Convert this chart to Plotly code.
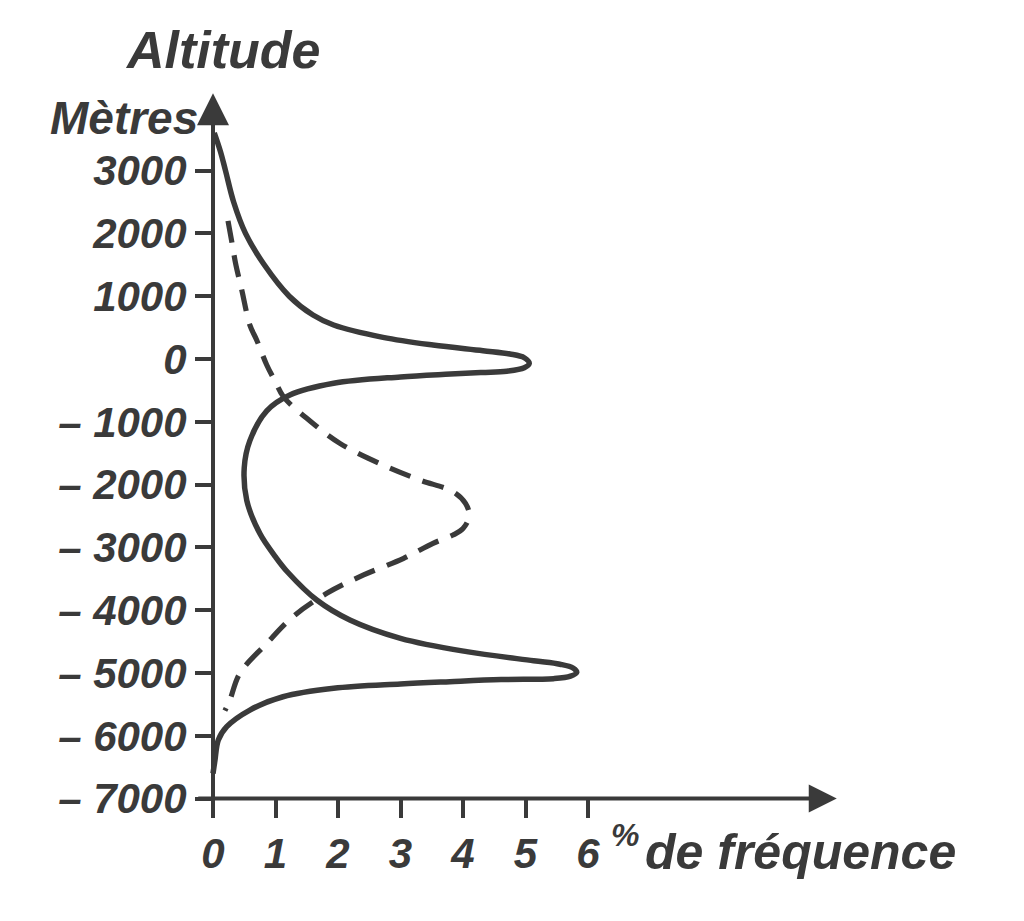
import plotly.graph_objects as go

# ---------------- data ----------------
# actual frequency curve (solid): altitude (m) -> % de fréquence
solid_alt = [3600, 3300, 3000, 2500, 2000, 1500, 1000, 700, 541, 345, 223, 133, 80,
             20, -70, -140, -195, -215, -240, -285, -387, -573, -825, -1300, -1730,
             -2250, -2780, -3150, -3400, -3838, -4156, -4448, -4660, -4805, -4860,
             -4920, -4990, -5050, -5090, -5105, -5138, -5175, -5244, -5378, -5590,
             -5855, -6067, -6400, -6600]
solid_freq = [0.02, 0.12, 0.2, 0.33, 0.52, 0.82, 1.22, 1.6, 1.93, 2.72, 3.52, 4.32, 4.75,
              4.98, 5.06, 4.98, 4.7, 4.3, 3.8, 3.0, 1.93, 1.23, 0.86, 0.59, 0.50,
              0.54, 0.75, 1.0, 1.2, 1.66, 2.19, 3.0, 4.06, 5.13, 5.55,
              5.76, 5.82, 5.72, 5.45, 4.61, 3.79, 3.0, 1.93, 1.12, 0.59,
              0.22, 0.085, 0.03, 0.0]

# theoretical (normal) curve (dashed)
dash_alt = [2200, 1815, 1530, 1100, 540, 300, -95, -366, -605, -944, -1343, -1688,
            -1927, -2113, -2300, -2500, -2700, -2803, -2935, -3174, -3439, -3731,
            -4103, -4528, -5005, -5430, -5600]
dash_freq = [0.24, 0.31, 0.36, 0.46, 0.59, 0.70, 0.86, 1.0, 1.13, 1.5, 2.03, 2.72,
             3.31, 3.84, 4.04, 4.1, 4.0, 3.84, 3.52, 3.05, 2.41, 1.82,
             1.28, 0.86, 0.43, 0.27, 0.19]

x_ticks = [0, 1, 2, 3, 4, 5, 6]
x_ticktext = ["0", "1", "2", "3", "4", "5", "6"]
y_ticks = [3000, 2000, 1000, 0, -1000, -2000, -3000, -4000, -5000, -6000, -7000]
y_ticktext = ["3000", "2000", "1000", "0", "– 1000", "– 2000", "– 3000",
              "– 4000", "– 5000", "– 6000", "– 7000"]

# ---------------- geometry ----------------
W, H = 1024, 921
X0_PX, X_UNIT = 213.0, 62.5          # pixel of x=0, pixels per 1 %
Y0_PX, Y_UNIT = 359.0, 0.0628        # pixel of 0 m, pixels per metre

x_range = [(0 - X0_PX) / X_UNIT, (W - X0_PX) / X_UNIT]
y_range = [(Y0_PX - H) / Y_UNIT, Y0_PX / Y_UNIT]

INK = "#3a3a3a"
FONT = "Liberation Sans"

fig = go.Figure()
fig.add_trace(go.Scatter(x=solid_freq, y=solid_alt, mode="lines",
                         line=dict(color=INK, width=5.5, shape="spline", smoothing=1.0),
                         hoverinfo="skip"))
fig.add_trace(go.Scatter(x=dash_freq, y=dash_alt, mode="lines",
                         line=dict(color=INK, width=5.2, shape="spline", smoothing=1.0,
                                   dash="22px,13px"),
                         hoverinfo="skip"))

tickfont = dict(family=FONT, size=42, color=INK, weight="bold", style="italic")

fig.update_layout(
    width=W, height=H, autosize=False,
    margin=dict(l=0, r=0, t=0, b=0),
    paper_bgcolor="white", plot_bgcolor="white",
    showlegend=False,
    xaxis=dict(domain=[0, 1], range=x_range, anchor="free",
               position=1 - (Y0_PX + 7000 * Y_UNIT) / H,
               showgrid=False, zeroline=False, showline=False,
               ticks="outside", ticklen=18, tickwidth=4, tickcolor=INK,
               tickvals=x_ticks, ticktext=x_ticktext, tickfont=tickfont),
    yaxis=dict(domain=[0, 1], range=y_range, anchor="free",
               position=X0_PX / W,
               showgrid=False, zeroline=False, showline=False,
               ticks="outside", ticklen=18, tickwidth=4, tickcolor=INK,
               tickvals=y_ticks, ticktext=y_ticktext, tickfont=tickfont),
)

# axis lines with arrows
fig.add_annotation(x=9.98, y=-7000, ax=-0.26, ay=-7000, xref="x", yref="y",
                   axref="x", ayref="y", text="", showarrow=True,
                   arrowhead=2, arrowsize=1.4, arrowwidth=4, arrowcolor=INK)
fig.add_annotation(x=0, y=4230, ax=0, ay=-7330, xref="x", yref="y",
                   axref="x", ayref="y", text="", showarrow=True,
                   arrowhead=2, arrowsize=1.6, arrowwidth=4, arrowcolor=INK)

def label(text, cx, cy, size, family=FONT):
    fig.add_annotation(x=cx / W, y=1 - cy / H, xref="paper", yref="paper",
                       text=text, showarrow=False, xanchor="center", yanchor="middle",
                       font=dict(family=family, size=size, color=INK,
                                 weight="bold", style="italic"))

label("Altitude", 223, 50, 52)
label("Mètres", 124, 118, 46)
label("%", 625, 835, 32)
label("de fréquence", 800, 852, 50)

fig.write_html("out.html")
